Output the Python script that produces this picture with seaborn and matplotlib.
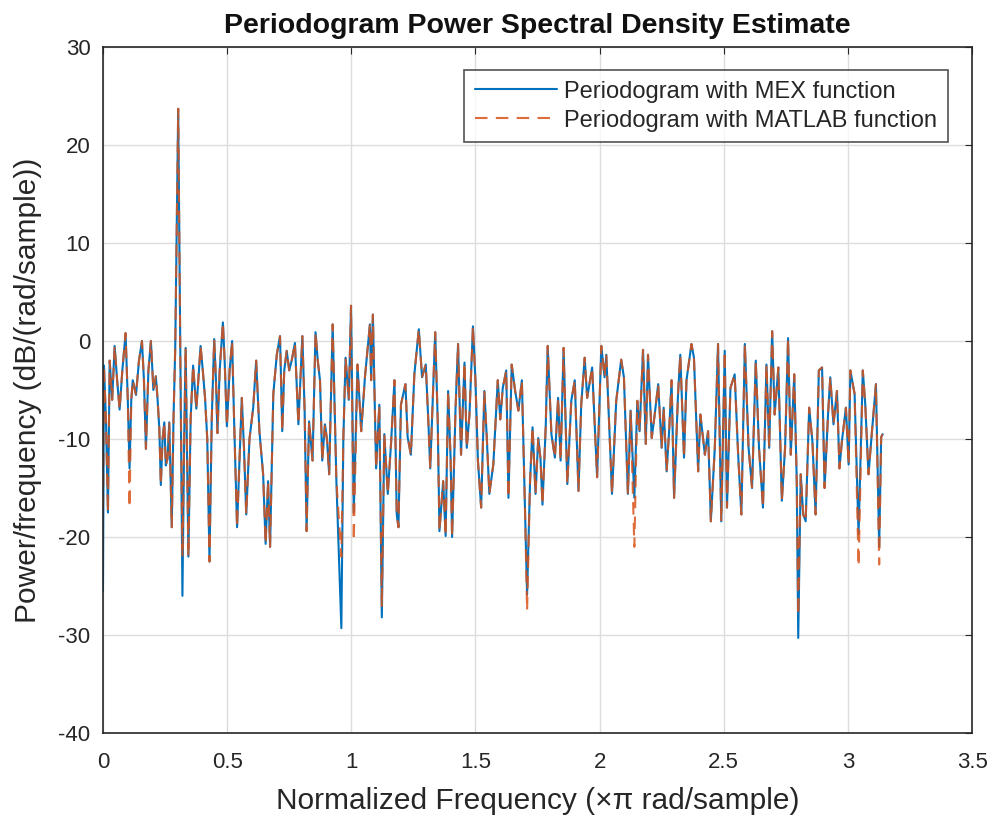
import pandas as pd
import matplotlib.pyplot as plt
import seaborn as sns

# frequency (x pi rad/sample) and PSD (dB/(rad/sample))
freq = [0.0, 0.004, 0.012, 0.02, 0.027, 0.037, 0.047, 0.057, 0.067, 0.078,
        0.091, 0.1, 0.107, 0.114, 0.12, 0.133, 0.145, 0.157, 0.165, 0.173,
        0.183, 0.193, 0.203, 0.213, 0.22, 0.227, 0.233, 0.24, 0.247, 0.253,
        0.26, 0.267, 0.277, 0.284, 0.291, 0.303, 0.312, 0.32, 0.327, 0.333,
        0.344, 0.353, 0.363, 0.376, 0.384, 0.393, 0.402, 0.411, 0.42, 0.429,
        0.438, 0.448, 0.455, 0.461, 0.47, 0.483, 0.49, 0.499, 0.51, 0.52,
        0.528, 0.54, 0.559, 0.568, 0.577, 0.59, 0.605, 0.617, 0.63, 0.645,
        0.655, 0.665, 0.673, 0.686, 0.7, 0.713, 0.722, 0.73, 0.74, 0.75,
        0.76, 0.773, 0.787, 0.803, 0.812, 0.82, 0.83, 0.844, 0.856, 0.865,
        0.874, 0.883, 0.894, 0.902, 0.911, 0.925, 0.94, 0.96, 0.968, 0.977,
        0.99, 0.999, 1.01, 1.025, 1.04, 1.055, 1.075, 1.08, 1.087, 1.1,
        1.113, 1.123, 1.133, 1.147, 1.16, 1.174, 1.183, 1.19, 1.2, 1.218,
        1.227, 1.24, 1.254, 1.272, 1.285, 1.3, 1.31, 1.318, 1.338, 1.348,
        1.355, 1.37, 1.38, 1.39, 1.4, 1.406, 1.42, 1.43, 1.442, 1.456,
        1.465, 1.476, 1.49, 1.5, 1.51, 1.523, 1.536, 1.546, 1.556, 1.572,
        1.59, 1.6, 1.61, 1.624, 1.633, 1.646, 1.66, 1.673, 1.687, 1.7,
        1.708, 1.72, 1.73, 1.742, 1.753, 1.762, 1.77, 1.783, 1.791, 1.806,
        1.82, 1.833, 1.843, 1.855, 1.87, 1.886, 1.9, 1.915, 1.926, 1.94,
        1.95, 1.97, 1.99, 2.007, 2.02, 2.027, 2.05, 2.067, 2.087, 2.098,
        2.114, 2.125, 2.14, 2.152, 2.161, 2.175, 2.186, 2.195, 2.21, 2.222,
        2.236, 2.25, 2.258, 2.27, 2.28, 2.29, 2.3, 2.316, 2.325, 2.34,
        2.35, 2.37, 2.38, 2.397, 2.406, 2.424, 2.437, 2.448, 2.464, 2.477,
        2.49, 2.504, 2.513, 2.527, 2.544, 2.558, 2.571, 2.585, 2.6, 2.614,
        2.629, 2.642, 2.658, 2.672, 2.683, 2.695, 2.705, 2.72, 2.734, 2.747,
        2.759, 2.77, 2.784, 2.794, 2.8, 2.81, 2.82, 2.83, 2.844, 2.857,
        2.87, 2.883, 2.896, 2.906, 2.92, 2.929, 2.942, 2.956, 2.966, 2.976,
        2.992, 3.003, 3.01, 3.027, 3.043, 3.06, 3.07, 3.083, 3.097, 3.113,
        3.126, 3.134, 3.14]

psd_mex = [-25.5, -2.5, -8, -17.5, -2, -6, -0.5, -4, -7, -3,
           0.8, -6, -13, -6, -4, -5.5, -2, 0, -4, -11,
           -3, 0, -5, -3.6, -6, -9, -14.7, -10, -8.3, -12.7,
           -12, -8.3, -19, -8, -0.7, 23.7, -3, -26, -10, -0.7,
           -22, -8, -2.5, -6.9, -4, -0.5, -3, -5.8, -10, -22.5,
           -8, 0.2, -4, -9.4, -3, 1.9, -2, -8.7, -3, 0,
           -8, -19, -5.8, -11, -17.7, -10, -6.8, -2, -9.2, -13.6,
           -20.7, -14.3, -21, -5.4, -1.4, 0.5, -9.2, -3, -1, -3,
           -2, -0.2, -8.5, 0.5, -7, -19.4, -8.2, -12.2, 0.9, -2,
           -4, -12.2, -8.5, -10, -13.6, 1.7, -14.3, -29.3, -10, -1.7,
           -6, 3.6, -17.5, -2.4, -9.2, -3.7, 1.7, -4, 2.7, -13,
           -6.5, -28.2, -9.5, -15.6, -10.5, -4, -17.7, -19, -6.5, -4.4,
           -9.8, -11.6, -3.4, 1.2, -3.7, -2.4, -8, -13, 0.9, -8,
           -19.4, -14.3, -19.9, -5.1, -12, -20, -6.8, -0.3, -11.6, -2.2,
           -10.9, -7.5, 1.5, -4, -12.2, -17, -5.1, -10, -15.6, -12.6,
           -4, -8, -4.8, -3, -16, -2.4, -5.1, -7.1, -4, -17.7,
           -25.9, -14.3, -8.8, -15.6, -9.9, -12, -16.7, -8.8, -0.5, -9.5,
           -11.9, -5.8, -12.2, -0.7, -14.6, -6.1, -4, -15.3, -6.5, -1.7,
           -5.8, -2.7, -13.9, -0.5, -3.7, -1.4, -15.6, -6.1, -1.9, -3.7,
           -15.6, -7.1, -16, -6.1, -9.2, -0.9, -10.5, -1.4, -9.9, -7.5,
           -4.4, -10.9, -6.8, -13.3, -9.2, -4, -16, -5.4, -1.4, -11.9,
           -4, -0.3, -1.7, -13.3, -7.5, -11.6, -9.2, -18.4, -10.9, -0.3,
           -18.4, -1, -17, -4.8, -3.4, -11.6, -17.7, -0.3, -10.9, -15,
           -2, -10.9, -17, -2.4, -10.9, 1, -7.5, -2.7, -16.3, -10.9,
           0.3, -11.6, -3.4, -14.3, -30.3, -13.6, -17.7, -18.4, -6.8, -10.2,
           -17.7, -3, -2.7, -15, -7.5, -3.7, -8.5, -5.1, -13, -10.2,
           -6.8, -12.6, -3, -5.4, -19.7, -3, -6.5, -13.6, -9.2, -4.4,
           -21, -9.8, -9.5]

# points where the MATLAB curve differs from the MEX one (mostly deep dips)
matlab_diff = {0.0: -17, 0.107: -17, 0.32: -22, 0.96: -22, 1.01: -20.4,
               1.123: -27.2, 1.708: -27.5, 2.14: -21, 2.8: -28,
               3.043: -23, 3.126: -22.8}
psd_matlab = [matlab_diff.get(f, v) for f, v in zip(freq, psd_mex)]

df = pd.DataFrame({'freq': freq, 'mex': psd_mex, 'matlab': psd_matlab})

sns.set_style('white')
plt.rcParams['font.family'] = ['Liberation Sans', 'DejaVu Sans']
plt.rcParams['axes.unicode_minus'] = False

fig = plt.figure(figsize=(9.93, 8.18), dpi=100)
ax = fig.add_axes([0.1037, 0.1039, 0.8752, 0.8386])

sns.lineplot(data=df, x='freq', y='mex', ax=ax, color='#0072BD', lw=1.5,
             estimator=None, sort=False, label='Periodogram with MEX function')
sns.lineplot(data=df, x='freq', y='matlab', ax=ax, color='#D95319', lw=1.5,
             estimator=None, sort=False, dashes=False,
             label='Periodogram with MATLAB function')
ax.lines[1].set_dashes((6, 4))
ax.lines[1].set_alpha(0.85)

ax.set_xlim(0, 3.5)
ax.set_ylim(-40, 30)
ax.set_xticks([0, 0.5, 1, 1.5, 2, 2.5, 3, 3.5])
ax.set_xticklabels(['0', '0.5', '1', '1.5', '2', '2.5', '3', '3.5'])
ax.set_yticks(range(-40, 31, 10))
ax.grid(True, color='#dcdcdc', lw=1)
ax.tick_params(direction='in', top=True, right=True, length=5,
               labelsize=16, colors='#262626')
ax.tick_params(axis='x', pad=14)
ax.tick_params(axis='y', pad=9)
for sp in ax.spines.values():
    sp.set_color('#262626')
    sp.set_linewidth(1.2)

ax.set_title('Periodogram Power Spectral Density Estimate',
             fontsize=20.5, fontweight='bold', color='#111111', pad=10)
ax.set_xlabel('Normalized Frequency (\u00d7\u03c0 rad/sample)',
              fontsize=21.5, color='#262626', labelpad=10)
ax.set_ylabel('Power/frequency (dB/(rad/sample))', fontsize=21.5,
              color='#262626', labelpad=12)

leg = ax.legend(loc='upper right', bbox_to_anchor=(0.9724, 0.9665),
                borderaxespad=0, fontsize=17, frameon=True, fancybox=False,
                handlelength=3.5, handletextpad=0.3, borderpad=0.45,
                labelspacing=0.3)
leg.get_frame().set_edgecolor('#262626')
leg.get_frame().set_linewidth(1.2)
leg.get_lines()[1].set_dashes((6, 4))

plt.savefig('out.png', dpi=100)
